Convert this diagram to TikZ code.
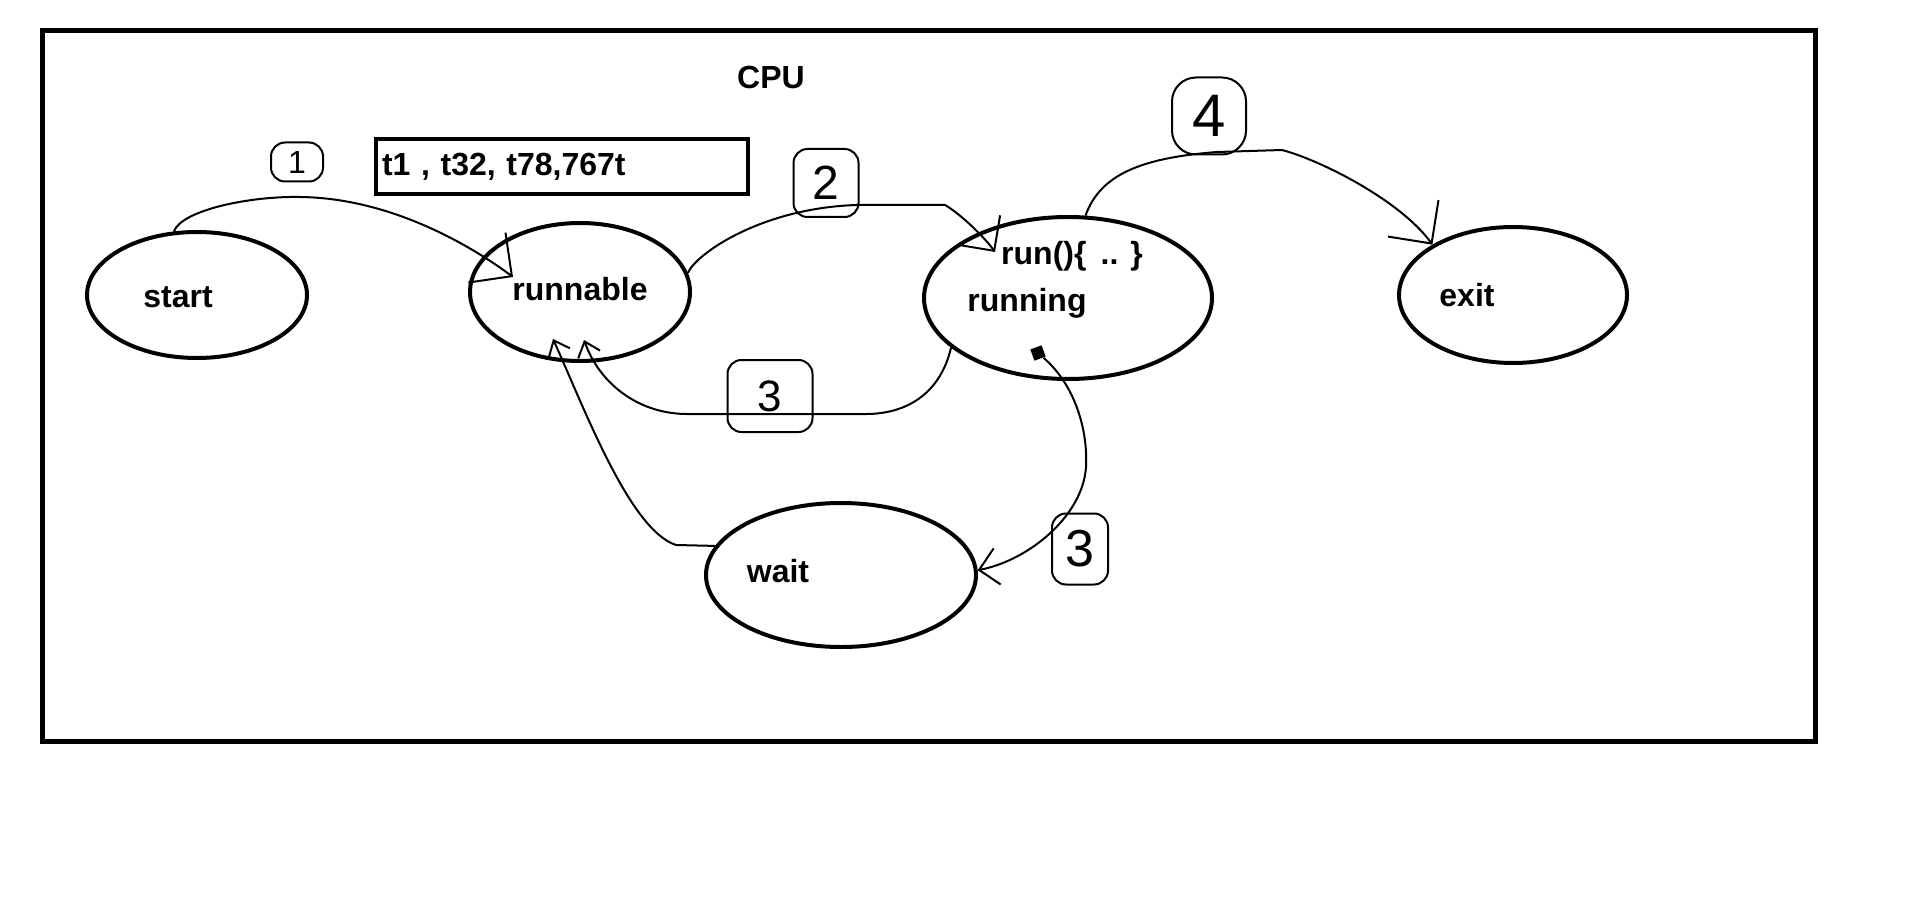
\documentclass[tikz,border=0pt]{standalone}
\usepackage{fontspec}
\setmainfont{Liberation Sans}
\usetikzlibrary{arrows.meta, positioning, calc, shapes.geometric}

\tikzset{
  state/.style={draw, ellipse, line width=2pt, inner sep=0pt},
  txt/.style={font=\bfseries\fontsize{16}{19}\selectfont, inner sep=0pt},
  numbox/.style={draw, rounded corners=7pt, line width=1pt, inner sep=0pt},
  flow/.style={line width=1pt, -{Straight Barb[angle=90:#1]}},
  flow/.default=14pt,
  flowsmall/.style={line width=1pt, -{Straight Barb[angle=80:9pt]}}
}

\begin{document}
\begin{tikzpicture}[x=0.5pt, y=-0.5pt]
  % Page and frame
  \fill[white] (0,0) rectangle (1914,903);
  \draw[line width=2.5pt] (42.5,30.5) rectangle (1815,741);
  \node[txt] (cpu) at (771,77) {CPU};
  % Thread queue
  \node[draw, line width=2pt, anchor=west, minimum height=27.5pt, text width=180pt,
        inner xsep=3pt, align=left, font=\bfseries\fontsize{16}{19}\selectfont] (queue) at (374,166.5) {t1 , t32, t78,767t};
  % States
  \node[state, minimum width=110pt, minimum height=63pt] (start) at (197,295) {};
  \node[state, minimum width=110pt, minimum height=69pt] (runnable) at (580,292) {};
  \node[state, minimum width=144pt, minimum height=81pt] (running) at (1068,298) {};
  \node[state, minimum width=114pt, minimum height=68pt] (exit) at (1513,295) {};
  \node[state, minimum width=135pt, minimum height=72pt] (wait) at (841,575) {};
  % State names
  \node[txt, xshift=-9.5pt, yshift=-1pt] (starttxt) at (start) {start};
  \node[txt, yshift=1.5pt] (runnabletxt) at (runnable) {runnable};
  \node[txt, xshift=2pt, yshift=21pt] (runtxt) at (running) {run()\{ \,.. \}};
  \node[txt, xshift=-20.5pt, yshift=-2.5pt] (runningtxt) at (running) {running};
  \node[txt, xshift=-23pt] (exittxt) at (exit) {exit};
  \node[txt, xshift=-31.5pt, yshift=2pt] (waittxt) at (wait) {wait};
  % Mark on running
  \node[fill, minimum width=6pt, minimum height=6pt, inner sep=0pt, rotate=20] (mark) at ($(running.center)+(-30,55)$) {};
  % Transitions
  \draw[flow=22pt] (start.110) .. controls (182,210) and (250,196) .. (300,197)
              .. controls (390,198) and (470,245) .. ($(runnable.center)+(-67,-15)$);
  \draw[flow=18pt] (runnable.10) .. controls (695,255) and (760,208) .. (857,205) -- (945,205)
              .. controls (962,215) and (985,238) .. ($(running.center)+(-73,-46)$);
  \draw[flowsmall] (running.203) .. controls (940,395) and (905,414) .. (866,414) -- (687,414)
              .. controls (640,414) and (600,385) .. ($(runnable.center)+(4,48)$);
  \draw[flow=22pt] (running.78) .. controls (1100,175) and (1140,158) .. (1217,152) -- (1282,150)
              .. controls (1320,160) and (1400,200) .. (exit.148);
  \draw[flow=13pt] (mark) .. controls (1075,385) and (1088,430) .. (1086,467)
              .. controls (1083,515) and (1030,560) .. (wait.2);
  \draw[flowsmall] (wait.167) -- (676,545)
              .. controls (630,530) and (585,410) .. ($(runnable.center)+(-27,47)$);
  % Step numbers
  \node[numbox, minimum width=26pt, minimum height=19.5pt, font=\fontsize{16}{16}\selectfont] (one) at (297,162) {1};
  \node[numbox, minimum width=32.5pt, minimum height=34pt, font=\fontsize{24}{24}\selectfont] (two) at (826,183) {2};
  \node[numbox, minimum width=42.5pt, minimum height=36pt, font=\fontsize{22}{22}\selectfont] (threea) at (770,396) {3};
  \node[numbox, minimum width=28pt, minimum height=35.5pt, font=\fontsize{26}{26}\selectfont] (threeb) at (1080,549) {3};
  \node[numbox, rounded corners=12pt, minimum width=37pt, minimum height=38.5pt, font=\fontsize{30}{30}\selectfont] (four) at (1209,116) {4};
\end{tikzpicture}
\end{document}
